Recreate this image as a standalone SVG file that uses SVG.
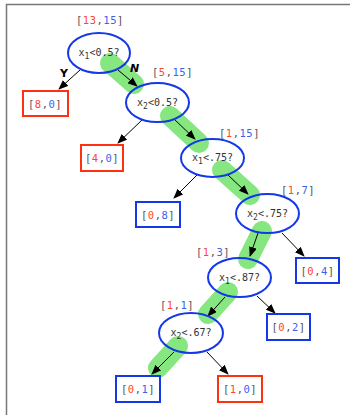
<svg xmlns="http://www.w3.org/2000/svg" width="350" height="415" viewBox="0 0 350 415">
<defs>
<marker id="ah" markerWidth="10" markerHeight="8" refX="9" refY="4" orient="auto" markerUnits="userSpaceOnUse">
<path d="M0,0 L10,4 L0,8 Z" fill="#000"/>
</marker>
<style>
.hl{stroke:#86e680;stroke-width:20;stroke-linecap:round;fill:none}
.e{fill:none;stroke:#1438e8;stroke-width:2}
.q{font-family:"DejaVu Sans Mono","Liberation Mono",monospace;font-size:10px;fill:#333;text-anchor:middle}
.s{font-size:8px}
.l{font-family:"DejaVu Sans Mono","Liberation Mono",monospace;font-size:10.5px;fill:#555;letter-spacing:0.5px}
.r{fill:#ff4530}
.b{fill:#3a62f0}
.lr{fill:#fff;stroke:#ff3010;stroke-width:2}
.lb{fill:#fff;stroke:#1438e8;stroke-width:2}
.c{stroke:#000;stroke-width:1;fill:none;marker-end:url(#ah)}
.m{font-family:"DejaVu Sans","Liberation Sans",sans-serif;font-weight:bold;font-size:11px;fill:#000}
</style>
</defs>
<rect width="350" height="415" fill="#fff"/>
<path d="M6.5,415 V4.5 H350" fill="none" stroke="#777" stroke-width="1.5"/>
<g id="highlight">
<line class="hl" x1="110" y1="63" x2="134" y2="84"/>
<line class="hl" x1="170" y1="116" x2="199" y2="143"/>
<line class="hl" x1="222" y1="170" x2="250" y2="195"/>
<line class="hl" x1="262" y1="231" x2="248" y2="259"/>
<line class="hl" x1="228" y1="292" x2="208" y2="314"/>
<line class="hl" x1="178" y1="346" x2="158" y2="368"/>
</g>
<g id="connectors">
<line class="c" x1="80" y1="70" x2="59" y2="89"/>
<line class="c" x1="118" y1="70" x2="137" y2="86"/>
<line class="c" x1="142" y1="120" x2="118" y2="143"/>
<line class="c" x1="175" y1="120" x2="195" y2="139"/>
<line class="c" x1="197" y1="175" x2="174" y2="198"/>
<line class="c" x1="228" y1="175" x2="248" y2="194"/>
<line class="c" x1="258" y1="233" x2="250" y2="256"/>
<line class="c" x1="282" y1="233" x2="304" y2="256"/>
<line class="c" x1="225" y1="297" x2="208" y2="316"/>
<line class="c" x1="257" y1="296" x2="275" y2="313"/>
<line class="c" x1="174" y1="352" x2="152" y2="374"/>
<line class="c" x1="207" y1="352" x2="228" y2="374"/>
<text class="m" x="60" y="77">Y</text>
<text class="m" x="130" y="72" font-style="italic">N</text>
</g>
<g id="n1">
<ellipse class="e" cx="99" cy="53" rx="31" ry="20"/>
<text class="q" x="99" y="56">x<tspan class="s" dy="3">1</tspan><tspan dy="-3">&lt;0.5?</tspan></text>
<text class="l" x="76" y="24">[<tspan class="r">13</tspan>,<tspan class="b">15</tspan>]</text>
</g>
<g id="n2">
<ellipse class="e" cx="157.5" cy="102.5" rx="31.5" ry="19.5"/>
<text class="q" x="157.5" y="105.5">x<tspan class="s" dy="3">2</tspan><tspan dy="-3">&lt;0.5?</tspan></text>
<text class="l" x="152" y="76">[<tspan class="r">5</tspan>,<tspan class="b">15</tspan>]</text>
</g>
<g id="n3">
<ellipse class="e" cx="212.5" cy="158" rx="31.5" ry="19"/>
<text class="q" x="212.5" y="161">x<tspan class="s" dy="3">1</tspan><tspan dy="-3">&lt;.75?</tspan></text>
<text class="l" x="219" y="137">[<tspan class="r">1</tspan>,<tspan class="b">15</tspan>]</text>
</g>
<g id="n4">
<ellipse class="e" cx="267.5" cy="213.5" rx="31.5" ry="19.5"/>
<text class="q" x="267.5" y="216.5">x<tspan class="s" dy="3">2</tspan><tspan dy="-3">&lt;.75?</tspan></text>
<text class="l" x="281" y="194">[<tspan class="r">1</tspan>,<tspan class="b">7</tspan>]</text>
</g>
<g id="n5">
<ellipse class="e" cx="239.5" cy="277.5" rx="31.5" ry="19.5"/>
<text class="q" x="239.5" y="280.5">x<tspan class="s" dy="3">1</tspan><tspan dy="-3">&lt;.87?</tspan></text>
<text class="l" x="196" y="256">[<tspan class="r">1</tspan>,<tspan class="b">3</tspan>]</text>
</g>
<g id="n6">
<ellipse class="e" cx="191" cy="333" rx="32" ry="20"/>
<text class="q" x="191" y="336">x<tspan class="s" dy="3">2</tspan><tspan dy="-3">&lt;.67?</tspan></text>
<text class="l" x="160" y="309">[<tspan class="r">1</tspan>,<tspan class="b">1</tspan>]</text>
</g>
<g id="leaf80">
<rect class="lr" x="23" y="91" width="45" height="25"/>
<text class="l" x="28" y="107.5">[<tspan class="r">8</tspan>,<tspan class="b">0</tspan>]</text>
</g>
<g id="leaf40">
<rect class="lr" x="81" y="145" width="42" height="26"/>
<text class="l" x="85" y="161.5">[<tspan class="r">4</tspan>,<tspan class="b">0</tspan>]</text>
</g>
<g id="leaf08">
<rect class="lb" x="136" y="202" width="44" height="25"/>
<text class="l" x="141" y="218.5">[<tspan class="r">0</tspan>,<tspan class="b">8</tspan>]</text>
</g>
<g id="leaf04">
<rect class="lb" x="296" y="258" width="43" height="25"/>
<text class="l" x="300.5" y="274.5">[<tspan class="r">0</tspan>,<tspan class="b">4</tspan>]</text>
</g>
<g id="leaf02">
<rect class="lb" x="267" y="314" width="43" height="26"/>
<text class="l" x="271.5" y="331">[<tspan class="r">0</tspan>,<tspan class="b">2</tspan>]</text>
</g>
<g id="leaf01">
<rect class="lb" x="116" y="376" width="44" height="26"/>
<text class="l" x="121" y="393">[<tspan class="r">0</tspan>,<tspan class="b">1</tspan>]</text>
</g>
<g id="leaf10">
<rect class="lr" x="218" y="376" width="44" height="26"/>
<text class="l" x="223" y="393">[<tspan class="r">1</tspan>,<tspan class="b">0</tspan>]</text>
</g>
</svg>
